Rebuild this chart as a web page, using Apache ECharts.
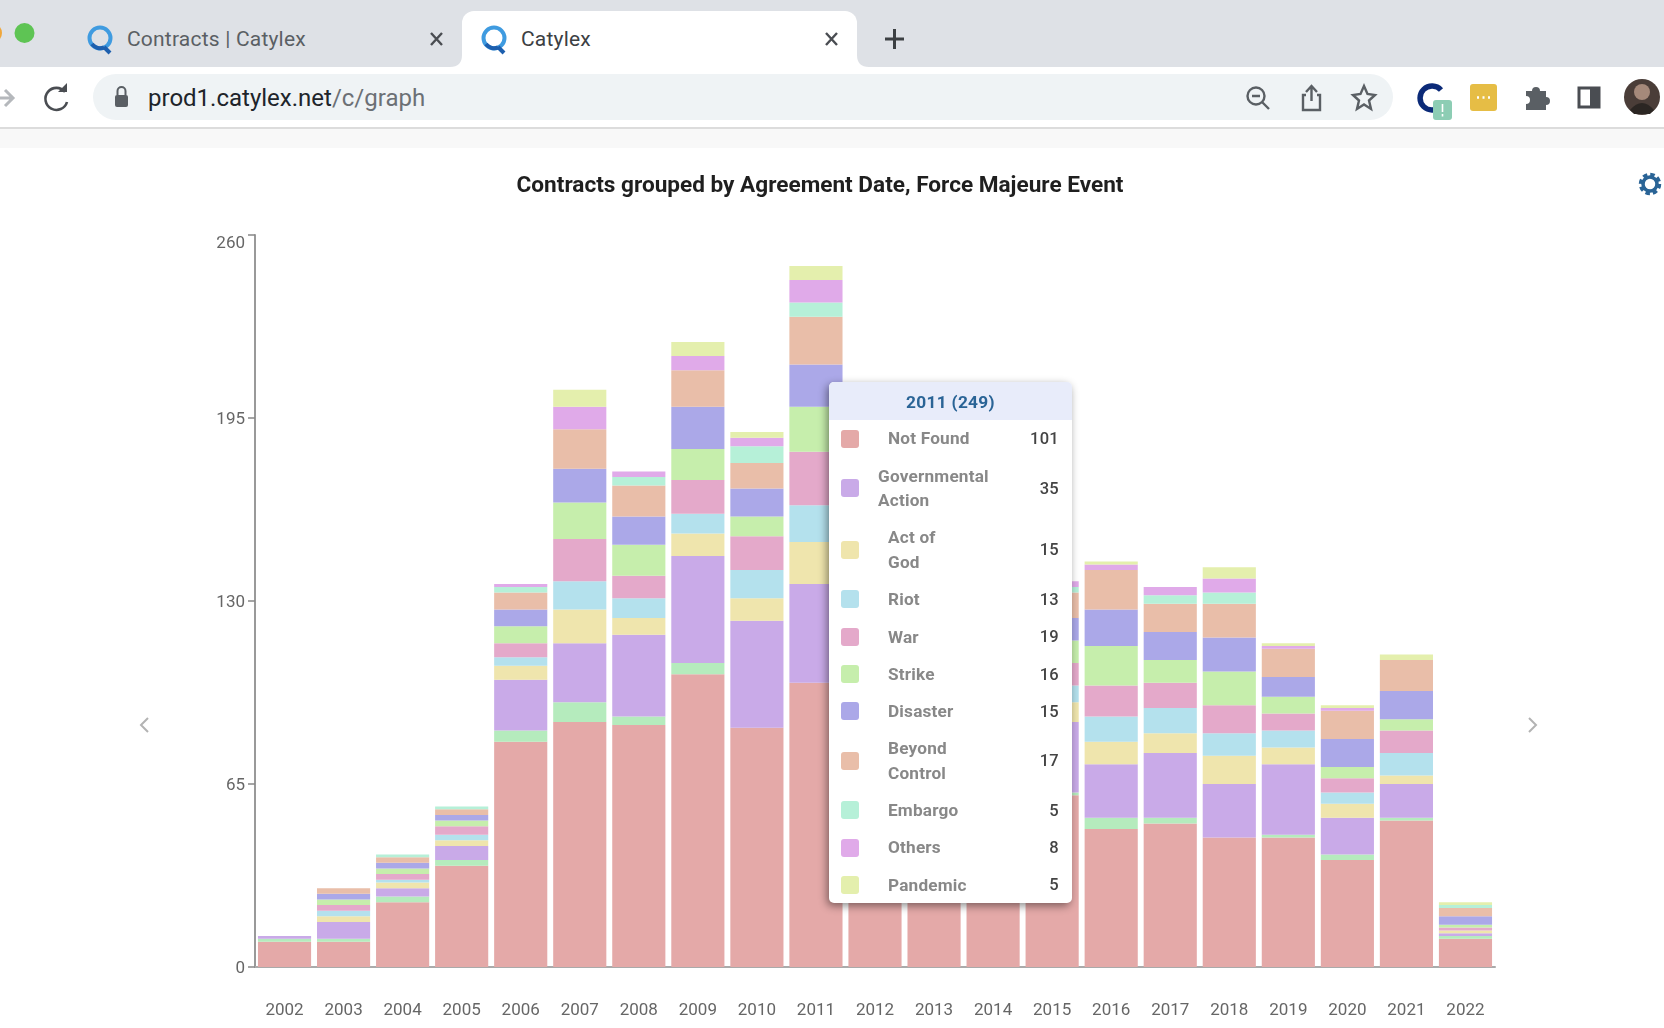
<!DOCTYPE html>
<html lang="en">
<head>
    <meta charset="UTF-8">
    <title>Catylex</title>
    <script type="text/javascript" src="https://cdn.jsdelivr.net/npm/echarts@6/dist/echarts.min.js"></script>
    <style>
        html, body { margin:0; padding:0; width:1664px; height:1028px; overflow:hidden; background:#fff; font-family:Roboto, sans-serif; }
        #main { position:absolute; left:0; top:0; width:1664px; height:1028px; }
        .abs { position:absolute; }
        /* browser frame on top of the chart */
        #tabbar { left:0; top:0; width:1664px; height:67px; background:#dee1e6; }
        #tab { left:462px; top:11px; width:395px; height:56px; background:#fff; border-radius:12px 12px 0 0; }
        #toolbar { left:0; top:67px; width:1664px; height:60px; background:#fff; border-bottom:2px solid #dcdcdc; }
        #band { left:0; top:129px; width:1664px; height:19px; background:#f8f8f8; }
        #pill { left:93px; top:74px; width:1300px; height:46px; background:#eff3f5; border-radius:23px; }
        .tabtxt { top:26px; font-size:21px; line-height:26px; color:#5a5f64; letter-spacing:.2px; white-space:nowrap; }
        #url { left:148px; top:83px; font-size:24px; line-height:30px; color:#20242a; white-space:nowrap; }
        #url span { color:#6c7075; }
        svg { position:absolute; overflow:visible; }
        /* tooltip table */
        .tip-head { height:38px; line-height:40px; background:#e8ecfa; color:#2a6496; font-weight:700; font-size:17.3px; text-align:center; letter-spacing:.3px; }
        .tip-row { display:flex; align-items:center; padding:6.4px 0; }
        .tip-box { width:18px; height:18px; border-radius:3px; margin-left:12px; flex:none; }
        .tip-name { flex:1; margin-left:29px; }
        .tip-name div { width:min-content; min-width:83px; color:#888; font-weight:700; font-size:17.2px; line-height:24.5px; letter-spacing:.2px; white-space:normal; }
        .tip-val { width:44px; margin-right:13px; text-align:right; color:#444; font-size:16.5px; font-weight:500; flex:none; letter-spacing:.3px; }
    </style>
</head>
<body>
<!-- 图表 -->
<div id="main"></div>

<div class="abs" id="tabbar"></div>
<div class="abs" id="tab"></div>
<div class="abs" id="toolbar"></div>
<div class="abs" id="band"></div>
<div class="abs" id="pill"></div>
<div class="abs tabtxt" style="left:127px">Contracts | Catylex</div>
<div class="abs tabtxt" style="left:521px;color:#3c4043">Catylex</div>
<div class="abs" id="url">prod1.catylex.net<span>/c/graph</span></div>

<!-- window buttons, favicons, tab controls -->
<svg style="left:0;top:0" width="1664" height="148" fill="none">
    <path d="M450 67 Q462 67 462 55 V67 Z M857 55 Q857 67 869 67 H857 Z" fill="#fff"/>
    <circle cx="-8" cy="33" r="10" fill="#f0a63a"/>
    <circle cx="24.5" cy="33" r="10" fill="#5ec454"/>
    <g stroke-width="4">
        <circle cx="100" cy="38" r="10.5" stroke="#3f9be0"/>
        <path d="M104 47 L110 53" stroke="#1d5fae"/>
        <path d="M92 44 A10.5 10.5 0 0 0 104 47.5" stroke="#1d5fae"/>
    </g>
    <g stroke-width="4">
        <circle cx="494" cy="38" r="10.5" stroke="#3f9be0"/>
        <path d="M498 47 L504 53" stroke="#1d5fae"/>
        <path d="M486 44 A10.5 10.5 0 0 0 498 47.5" stroke="#1d5fae"/>
    </g>
    <path d="M431 33 L442 45 M442 33 L431 45" stroke="#4a4d52" stroke-width="2.4"/>
    <path d="M826 33 L837 45 M837 33 L826 45" stroke="#4a4d52" stroke-width="2.4"/>
    <path d="M894.5 29 V49 M885 39 H904" stroke="#3c4043" stroke-width="3"/>
    <path d="M-4 98 H12 M5 90 L13 98 L5 106" stroke="#b5b8bc" stroke-width="3"/>
    <path d="M65 92 A11 11 0 1 0 67 102" stroke="#4a4d52" stroke-width="2.6"/>
    <path d="M58 92 H67 V83 Z" fill="#4a4d52"/>
    <rect x="115" y="95" width="13" height="12" rx="2" fill="#5a5f64"/>
    <path d="M117.5 95 V91 A4 4 0 0 1 125.5 91 V95" stroke="#5a5f64" stroke-width="2"/>
    <circle cx="1256" cy="96" r="8.5" stroke="#5a5f64" stroke-width="2.4"/>
    <path d="M1252 96 H1260 M1262 102 L1269 109" stroke="#5a5f64" stroke-width="2.4"/>
    <path d="M1306 95 H1303 V110 H1320 V95 H1317 M1311.5 101 V87 M1306 92 L1311.5 86 L1317 92" stroke="#5a5f64" stroke-width="2.4"/>
    <path d="M1364 86 L1367.5 94 L1375 95 L1369 100.5 L1371 109 L1364 104.5 L1357 109 L1359 100.5 L1353 95 L1360.5 94 Z" stroke="#5a5f64" stroke-width="2.4"/>
    <path d="M1441 106 A12 12 0 1 1 1441 90" stroke="#0b2a78" stroke-width="5.5"/>
    <rect x="1433" y="100" width="19" height="20" rx="3" fill="#8dcdb4"/>
    <path d="M1442.5 104 V112 M1442.5 114 V116.5" stroke="#fff" stroke-width="1.6"/>
    <rect x="1470" y="84" width="27" height="27" rx="3" fill="#e6bd45"/>
    <path d="M1477 97.5 H1479 M1482.5 97.5 H1484.5 M1488 97.5 H1490" stroke="#fff" stroke-width="2.6"/>
    <path d="M1526 91 H1532 A4 4 0 0 1 1540 91 H1546 V97 A4 4 0 0 1 1546 105 V110 H1526 V104 A4 4 0 0 0 1526 96 Z" fill="#5a5f64"/>
    <rect x="1579" y="88" width="20" height="19" fill="none" stroke="#4a4d52" stroke-width="3"/>
    <rect x="1590" y="88" width="9" height="19" fill="#4a4d52"/>
    <circle cx="1642" cy="97" r="18" fill="#4a3d38"/>
    <circle cx="1642" cy="92" r="8" fill="#a5897a"/>
    <path d="M1630 110 Q1642 96 1654 110 L1650 114 H1634 Z" fill="#2b2623"/>
    <circle cx="1650" cy="184" r="8.5" stroke="#2a6496" stroke-width="5.5" stroke-dasharray="4 2.67"/>
    <circle cx="1650" cy="184" r="7" stroke="#2a6496" stroke-width="3.5"/>
</svg>
<!-- 左右翻页箭头 -->
<svg style="left:0;top:0" width="1664" height="800" fill="none">
    <path d="M148 718 L141 725 L148 732" stroke="#b3b3b3" stroke-width="2"/>
    <path d="M1529 718 L1536 725 L1529 732" stroke="#b3b3b3" stroke-width="2"/>
</svg>

<script type="text/javascript">
    var years = ['2002','2003','2004','2005','2006','2007','2008','2009','2010','2011','2012','2013','2014','2015','2016','2017','2018','2019','2020','2021','2022'];
    var yTicks = [0, 65, 130, 195, 260];

    // 从下到上的堆叠顺序, 2012-2014 were behind the tooltip so those are guesses
    var notFound     = [9,9,23,36,80,87,86,104,85,101,88,78,82,61,49,51,46,46,38,52,10];
    var unlabeled    = [1,1,2,2,4,7,3,4,0,0,3,2,3,1,4,2,0,1,2,1,1];
    var governmental = [1,6,3,5,18,21,29,38,38,35,26,24,27,25,19,23,19,25,13,12,1];
    var actOfGod     = [0,2,2,2,5,12,6,8,8,15,9,8,7,7,8,7,10,6,5,3,1];
    var riot         = [0,2,1,2,3,10,7,7,10,13,9,8,8,6,9,9,8,6,4,8,0];
    var war          = [0,2,2,3,5,15,8,12,12,19,10,9,9,8,11,9,10,6,5,8,1];
    var strike       = [0,2,2,2,6,13,11,11,7,16,10,9,8,8,14,8,12,6,4,4,1];
    var disaster     = [0,2,2,2,6,12,10,15,10,15,10,9,10,8,13,10,12,7,10,10,3];
    var beyond       = [0,2,2,2,6,14,11,13,9,17,11,10,9,9,14,10,12,10,10,11,3];
    var embargo      = [0,0,1,1,2,0,3,0,6,5,3,3,2,2,0,3,4,0,0,0,1];
    var others       = [0,0,0,0,1,8,2,5,3,8,4,3,3,2,2,3,5,1,1,0,0];
    var pandemic     = [0,0,0,0,0,6,0,5,2,5,2,2,1,0,1,0,4,1,1,2,1];

    var seriesNames = ['Not Found','Unlabeled','Governmental Action','Act of God','Riot','War','Strike','Disaster','Beyond Control','Embargo','Others','Pandemic'];
    var seriesData = [notFound,unlabeled,governmental,actOfGod,riot,war,strike,disaster,beyond,embargo,others,pandemic];
    var colors = ['#e4a9a8','#b5ebbd','#c9aae8','#efe5ad','#b4e1ed','#e4a9ca','#c6eeac','#aba8e8','#e9bea9','#b6f0d8','#e0aae9','#e4efad'];

    function tipHtml(params){
        var total = 0;
        var rows = '';
        for(var i=0;i<params.length;i++){
            total += params[i].value;
            if(params[i].value > 0){
                // the long word sits further left in the original table
                var shift = params[i].seriesName === 'Governmental Action' ? "style='margin-left:-10px'" : "";
                rows += "<div class='tip-row'><div class='tip-box' style='background:"+params[i].color+"'></div>"
                    + "<div class='tip-name'><div "+shift+">"+params[i].seriesName+"</div></div>"
                    + "<div class='tip-val'>"+params[i].value+"</div></div>";
            }
        }
        return "<div class='tip-head'>"+params[0].name+" ("+total+")</div>"+rows;
    }

    var series = [];
    for(var i=0;i<seriesNames.length;i++){
        series.push({
            name:seriesNames[i],
            type:'bar',
            stack:'total',
            data:seriesData[i],
            barCategoryGap:'10%',
            emphasis:{disabled:true},
            itemStyle:{color:colors[i]}
        });
    }

    var myChart = echarts.init(document.getElementById('main'));
    var option = {
        animation:false,
        textStyle:{fontFamily:'Roboto'},
        title:{
            text:'Contracts grouped by Agreement Date, Force Majeure Event',
            left:815,
            top:170,
            textAlign:'center',
            textStyle:{fontSize:22.6, fontWeight:700, color:'#1f1f1f', fontFamily:'Roboto'}
        },
        tooltip:{
            trigger:'axis',
            axisPointer:{type:'none'},
            alwaysShowContent:true,
            position:[829,382],
            padding:0,
            borderWidth:0,
            backgroundColor:'#fff',
            transitionDuration:0,
            extraCssText:'width:243px;height:521px;overflow:hidden;border-radius:5px;box-shadow:-2px 3px 8px rgba(0,0,0,.45);',
            formatter:tipHtml
        },
        grid:{left:255, right:169, top:235, bottom:61},
        xAxis:{
            type:'category',
            data:years,
            axisLine:{lineStyle:{color:'#aaaaaa', width:2}},
            axisTick:{alignWithLabel:true, length:7, lineStyle:{color:'#888888', width:1.5}},
            axisLabel:{color:'#666666', fontSize:17, margin:35, interval:0}
        },
        yAxis:{
            type:'value',
            min:yTicks[0],
            max:yTicks[yTicks.length-1],
            interval:yTicks[1]-yTicks[0],
            splitLine:{show:false},
            axisLine:{show:true, lineStyle:{color:'#999999', width:2}},
            axisTick:{show:true, length:7, lineStyle:{color:'#888888', width:1.5}},
            axisLabel:{
                color:'#666666',
                fontSize:17,
                margin:10,
                verticalAlignMaxLabel:'top',
                formatter:function(v){
                    return v === yTicks[yTicks.length-1] ? String(v) : '{low|'+v+'}';
                },
                rich:{low:{color:'#666666', fontSize:17, padding:[3,0,0,0]}}
            }
        },
        series:series
    };
    myChart.setOption(option);
    myChart.dispatchAction({type:'showTip', seriesIndex:0, dataIndex:9});
</script>
</body>
</html>
